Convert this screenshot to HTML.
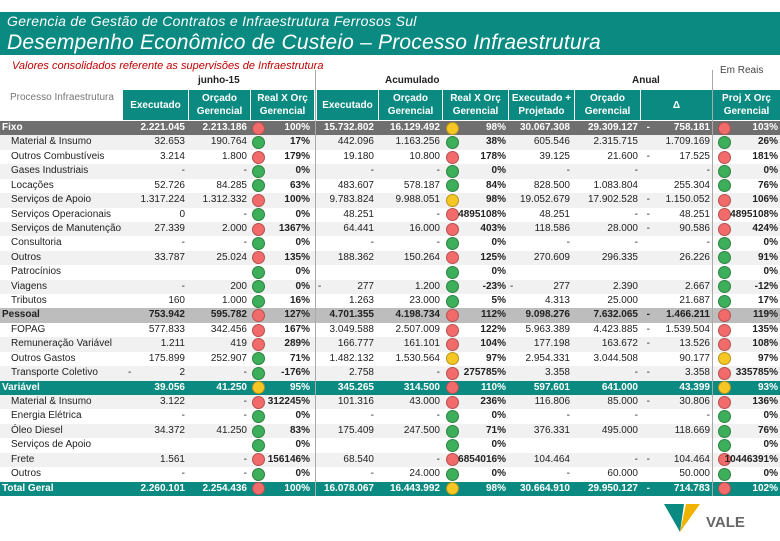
<!DOCTYPE html>
<html><head><meta charset="utf-8"><style>
body{margin:0;width:780px;height:540px;overflow:hidden;background:#fff;font-family:"Liberation Sans",sans-serif;position:relative}
div,span{position:absolute;box-sizing:border-box}
.t{white-space:nowrap;font-size:10px;line-height:14.4px}
.hd{background:#0a8a80;color:#fff;font-weight:bold;font-size:10px;text-align:center;line-height:13px;display:flex;align-items:center;justify-content:center}
.dot{width:13px;height:13px;border-radius:50%;border:1px solid rgba(0,0,0,.25)}
</style></head><body>
<div style="left:0;top:12px;width:780px;height:43px;background:#0a8a80"></div>
<div class="t" style="left:7px;top:13px;color:#fff;font-style:italic;font-size:14px;line-height:16px;letter-spacing:0.3px">Gerencia de Gestão de Contratos e Infraestrutura Ferrosos Sul</div>
<div class="t" style="left:7px;top:30px;color:#fff;font-style:italic;font-size:21px;line-height:25px;letter-spacing:0.2px">Desempenho Econômico de Custeio – Processo Infraestrutura</div>
<div class="t" style="left:12px;top:59px;color:#c00000;font-style:italic;font-size:11px">Valores consolidados referente as supervisões de Infraestrutura</div>
<div class="t" style="left:720px;top:64px;color:#444;font-size:10px">Em Reais</div>
<div class="t" style="left:198px;top:74px;font-weight:bold;color:#222">junho-15</div>
<div class="t" style="left:385px;top:74px;font-weight:bold;color:#222">Acumulado</div>
<div class="t" style="left:632px;top:74px;font-weight:bold;color:#222">Anual</div>
<div class="t" style="left:10px;top:91px;color:#777">Processo Infraestrutura</div>
<div id="tbl"></div>
<div style="left:662px;top:500px;width:90px;height:36px">
<svg width="90" height="36"><polygon points="2,4 22,4 18,32" fill="#0a8a80"/><polygon points="18,32 38,4 24,4" fill="#f0b400"/><text x="44" y="27" font-family="Liberation Sans" font-weight="bold" font-size="15" fill="#666">VALE</text></svg></div>
<script>
const headers=[["Executado",122,66],["Orçado<br>Gerencial",188,62],["Real X Orç<br>Gerencial",250,64],["Executado",316,62],["Orçado<br>Gerencial",378,64],["Real X Orç<br>Gerencial",442,66],["Executado +<br>Projetado",508,66],["Orçado<br>Gerencial",574,66],["Δ",640,72],["Proj X Orç<br>Gerencial",712,68]];
const rowNames=["Fixo","Material & Insumo","Outros Combustíveis","Gases Industriais","Locações","Serviços de Apoio","Serviços Operacionais","Serviços de Manutenção","Consultoria","Outros","Patrocínios","Viagens","Tributos","Pessoal","FOPAG","Remuneração Variável","Outros Gastos","Transporte Coletivo","Variável","Material & Insumo","Energia Elétrica","Óleo Diesel","Serviços de Apoio","Frete","Outros","Total Geral"];
const rowTypes=["g1","c","c","c","c","c","c","c","c","c","c","c","c","g2","c","c","c","c","g3","c","c","c","c","c","c","g3"];
const monthExec=["2.221.045","32.653","3.214","-","52.726","1.317.224","0","27.339","-","33.787","","-","160","753.942","577.833","1.211","175.899","2","39.056","3.122","-","34.372","","1.561","-","2.260.101"];
const monthBud=["2.213.186","190.764","1.800","-","84.285","1.312.332","-","2.000","-","25.024","","200","1.000","595.782","342.456","419","252.907","-","41.250","-","-","41.250","","-","-","2.254.436"];
const monthDot=["r","g","r","g","g","r","g","r","g","r","g","g","g","r","r","r","g","g","y","r","g","g","g","r","g","r"];
const monthPct=["100%","17%","179%","0%","63%","100%","0%","1367%","0%","135%","0%","0%","16%","127%","167%","289%","71%","-176%","95%","312245%","0%","83%","0%","156146%","0%","100%"];
const accExec=["15.732.802","442.096","19.180","-","483.607","9.783.824","48.251","64.441","-","188.362","","277","1.263","4.701.355","3.049.588","166.777","1.482.132","2.758","345.265","101.316","-","175.409","","68.540","-","16.078.067"];
const accBud=["16.129.492","1.163.256","10.800","-","578.187","9.988.051","-","16.000","-","150.264","","1.200","23.000","4.198.734","2.507.009","161.101","1.530.564","-","314.500","43.000","-","247.500","","-","24.000","16.443.992"];
const accDot=["y","g","r","g","g","y","r","r","g","r","g","g","g","r","r","r","y","r","r","r","g","g","g","r","g","y"];
const accPct=["98%","38%","178%","0%","84%","98%","4895108%","403%","0%","125%","0%","-23%","5%","112%","122%","104%","97%","275785%","110%","236%","0%","71%","0%","6854016%","0%","98%"];
const projExec=["30.067.308","605.546","39.125","-","828.500","19.052.679","48.251","118.586","-","270.609","","277","4.313","9.098.276","5.963.389","177.198","2.954.331","3.358","597.601","116.806","-","376.331","","104.464","-","30.664.910"];
const annBud=["29.309.127","2.315.715","21.600","-","1.083.804","17.902.528","-","28.000","-","296.335","","2.390","25.000","7.632.065","4.423.885","163.672","3.044.508","-","641.000","85.000","-","495.000","","-","60.000","29.950.127"];
const deltaVal=["758.181","1.709.169","17.525","-","255.304","1.150.052","48.251","90.586","-","26.226","","2.667","21.687","1.466.211","1.539.504","13.526","90.177","3.358","43.399","30.806","-","118.669","","104.464","50.000","714.783"];
const deltaNeg=[1,0,1,0,0,1,1,1,0,0,0,0,0,1,1,1,0,1,0,1,0,0,0,1,0,1];
const annDot=["r","g","r","g","g","r","r","r","g","g","g","g","g","r","r","r","y","r","y","r","g","g","g","r","g","r"];
const annPct=["103%","26%","181%","0%","76%","106%","4895108%","424%","0%","91%","0%","-12%","17%","119%","135%","108%","97%","335785%","93%","136%","0%","76%","0%","10446391%","0%","102%"];
const leftDash=[[11,"acc"],[11,"proj"],[17,"month"]];
const tbl=document.getElementById('tbl');
const colors={r:"#f26b6b",g:"#3dae5a",y:"#f6c624"};
function mk(cls,style,html){const d=document.createElement('div');if(cls)d.className=cls;d.style.cssText=style;d.innerHTML=html||"";tbl.appendChild(d);return d;}
headers.forEach(h=>{const d=mk("hd",`left:${h[1]}px;top:90px;width:${h[2]}px;height:30px;border-left:1px solid #fff`,h[0]);

});
const top0=121,rh=14.42;
rowNames.forEach((n,i)=>{const y=top0+i*rh;const t=rowTypes[i];
let bg=t=="g1"?"#6f6f6f":t=="g2"?"#bdbdbd":t=="g3"?"#0a8a80":(i%2?"#f1f1f1":"#fff");
let fc=(t=="g1"||t=="g3")?"#fff":"#222";let fw=t=="c"?"normal":"bold";
const r=mk("",`left:0;top:${y}px;width:780px;height:${rh}px;background:${bg};color:${fc};font-weight:${fw}`);


function txt(s,right,bold){const e=document.createElement('div');e.className='t';e.style.cssText=`right:${780-right}px;top:0;${bold?'font-weight:bold;':''}`;e.textContent=s;r.appendChild(e);return e;}
function dot(c,cx){const e=document.createElement('div');e.className='dot';e.style.cssText=`left:${cx-6.5}px;top:0.7px;background:${colors[c]}`;
r.appendChild(e);}
const nm=document.createElement('div');nm.className='t';nm.style.cssText=`left:${t=="c"?11:2}px;top:0`;nm.textContent=n;r.appendChild(nm);
txt(monthExec[i],185);txt(monthBud[i],247);dot(monthDot[i],258);txt(monthPct[i],310,true);
txt(accExec[i],374);txt(accBud[i],440);dot(accDot[i],452);txt(accPct[i],506,true);
txt(projExec[i],570);txt(annBud[i],638);if(deltaNeg[i])txt("-",650);txt(deltaVal[i],710);dot(annDot[i],724);txt(annPct[i],778,true);
leftDash.forEach(ld=>{if(ld[0]==i){const x=ld[1]=="acc"?318:ld[1]=="proj"?510:128;const e=document.createElement('div');e.className='t';e.style.cssText=`left:${x}px;top:0`;e.textContent='-';r.appendChild(e);}});
});
[315,712].forEach(x=>{const l=mk("",`left:${x}px;top:70px;width:1px;height:${top0+26*rh-70}px;background:#aaa`);

});
</script>
</body></html>
